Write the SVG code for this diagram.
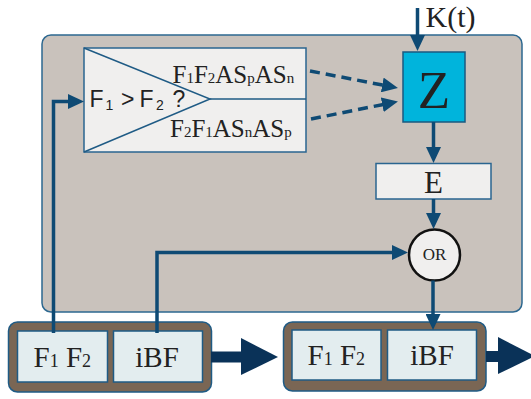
<svg xmlns="http://www.w3.org/2000/svg" width="531" height="399" viewBox="0 0 531 399">
<style>
.serif{font-family:"Liberation Serif","Times New Roman",serif;fill:#222}
.sans{font-family:"Liberation Sans",Arial,sans-serif;fill:#222}
.conn{fill:none;stroke:#0e4a74;stroke-width:3.5}
.dash{stroke-dasharray:10 6}
.box{stroke:#2a6590;stroke-width:1.5}
.inner{fill:#e3edef;stroke:#1f5b85;stroke-width:1.5}
.cont{fill:#7a6654;stroke:#1f5b85;stroke-width:1.5}
.big{fill:#0a3258}
</style>
<defs>
<marker id="ah" markerUnits="userSpaceOnUse" markerWidth="16" markerHeight="15" viewBox="0 0 16 15" refX="8" refY="7.5" orient="auto"><path d="M0,0 L16,7.5 L0,15 z" fill="#0e4a74"/></marker>
</defs>
<rect width="531" height="399" fill="#fff"/>
<g id="panel"><rect x="42" y="35" width="480" height="277" rx="9" fill="#c9c2bc" stroke="#2d6890" stroke-width="1.5"/></g>
<g id="comparator">
<rect x="84" y="48" width="222" height="104" fill="#f0efee" class="box"/>
<polyline points="84,48 210,99 84,152" fill="none" stroke="#1f5b85" stroke-width="1.5"/>
<line x1="210" y1="99" x2="306" y2="99" stroke="#1f5b85" stroke-width="1.5"/>
<text class="sans" font-size="23" y="107"><tspan x="89.5">F</tspan><tspan x="105.5" y="110" font-size="14">1</tspan><tspan x="121" y="107">&gt;</tspan><tspan x="139.5">F</tspan><tspan x="156" y="110" font-size="14">2</tspan><tspan x="172.5" y="107">?</tspan></text>
<text class="serif" font-size="25" x="172.5" y="83">F<tspan font-size="15">1</tspan>F<tspan font-size="15">2</tspan>AS<tspan font-size="15">p</tspan>AS<tspan font-size="15">n</tspan></text>
<text class="serif" font-size="25" x="170" y="136.5">F<tspan font-size="15">2</tspan>F<tspan font-size="15">1</tspan>AS<tspan font-size="15">n</tspan>AS<tspan font-size="15">p</tspan></text>
</g>
<g id="Z">
<rect x="403" y="52" width="62" height="70" fill="#00b4dc" stroke="#1a5a80" stroke-width="1.5"/>
<text class="serif" font-size="53" x="434" y="108.3" text-anchor="middle">Z</text>
</g>
<g id="K"><text class="serif" font-size="30" x="425.5" y="26.5">K(t)</text></g>
<g id="E">
<rect x="376" y="163.5" width="115" height="35.5" fill="#f0efee" class="box"/>
<text class="serif" font-size="31" x="433.5" y="193.3" text-anchor="middle">E</text>
</g>
<g id="OR">
<circle cx="434.5" cy="255" r="25.5" fill="#f0efee" stroke="#111" stroke-width="2.5"/>
<text class="serif" font-size="17" x="434.5" y="259.5" text-anchor="middle">OR</text>
</g>
<g id="block1">
<rect x="8.5" y="322" width="203" height="70" rx="9" class="cont"/>
<rect x="17.5" y="331" width="90" height="51" class="inner"/>
<rect x="113.5" y="331" width="89" height="51" class="inner"/>
<text class="serif" font-size="29" x="62.3" y="366.7" text-anchor="middle">F<tspan font-size="18">1</tspan> F<tspan font-size="18">2</tspan></text>
<text class="serif" font-size="29" x="157" y="366.7" text-anchor="middle">iBF</text>
</g>
<g id="block2">
<rect x="283.5" y="322" width="202.5" height="69" rx="9" class="cont"/>
<rect x="292" y="330" width="89" height="50" class="inner"/>
<rect x="387.5" y="330" width="89" height="50" class="inner"/>
<text class="serif" font-size="29" x="336.3" y="365" text-anchor="middle">F<tspan font-size="18">1</tspan> F<tspan font-size="18">2</tspan></text>
<text class="serif" font-size="29" x="432" y="365" text-anchor="middle">iBF</text>
</g>
<g id="connectors">
<path class="conn" d="M53.5,333 V101.5 H76" marker-end="url(#ah)"/>
<path class="conn" d="M157,333 V252.5 H400" marker-end="url(#ah)"/>
<path class="conn" d="M417.5,8 V43" marker-end="url(#ah)"/>
<path class="conn" d="M433.5,122 V155" marker-end="url(#ah)"/>
<path class="conn" d="M433.5,199 V221" marker-end="url(#ah)"/>
<path class="conn" d="M433,280.5 V322" marker-end="url(#ah)"/>
<path class="conn dash" d="M310,71 L390.1,86.5" marker-end="url(#ah)"/>
<path class="conn dash" d="M311,119 L390.1,103.1" marker-end="url(#ah)"/>
<rect class="big" x="211" y="351.5" width="31" height="11"/>
<polygon class="big" points="241,338 278,357 241,375"/>
<rect class="big" x="486" y="351" width="13" height="11"/>
<polygon class="big" points="498,337 535,356 498,374"/>
</g>
</svg>
